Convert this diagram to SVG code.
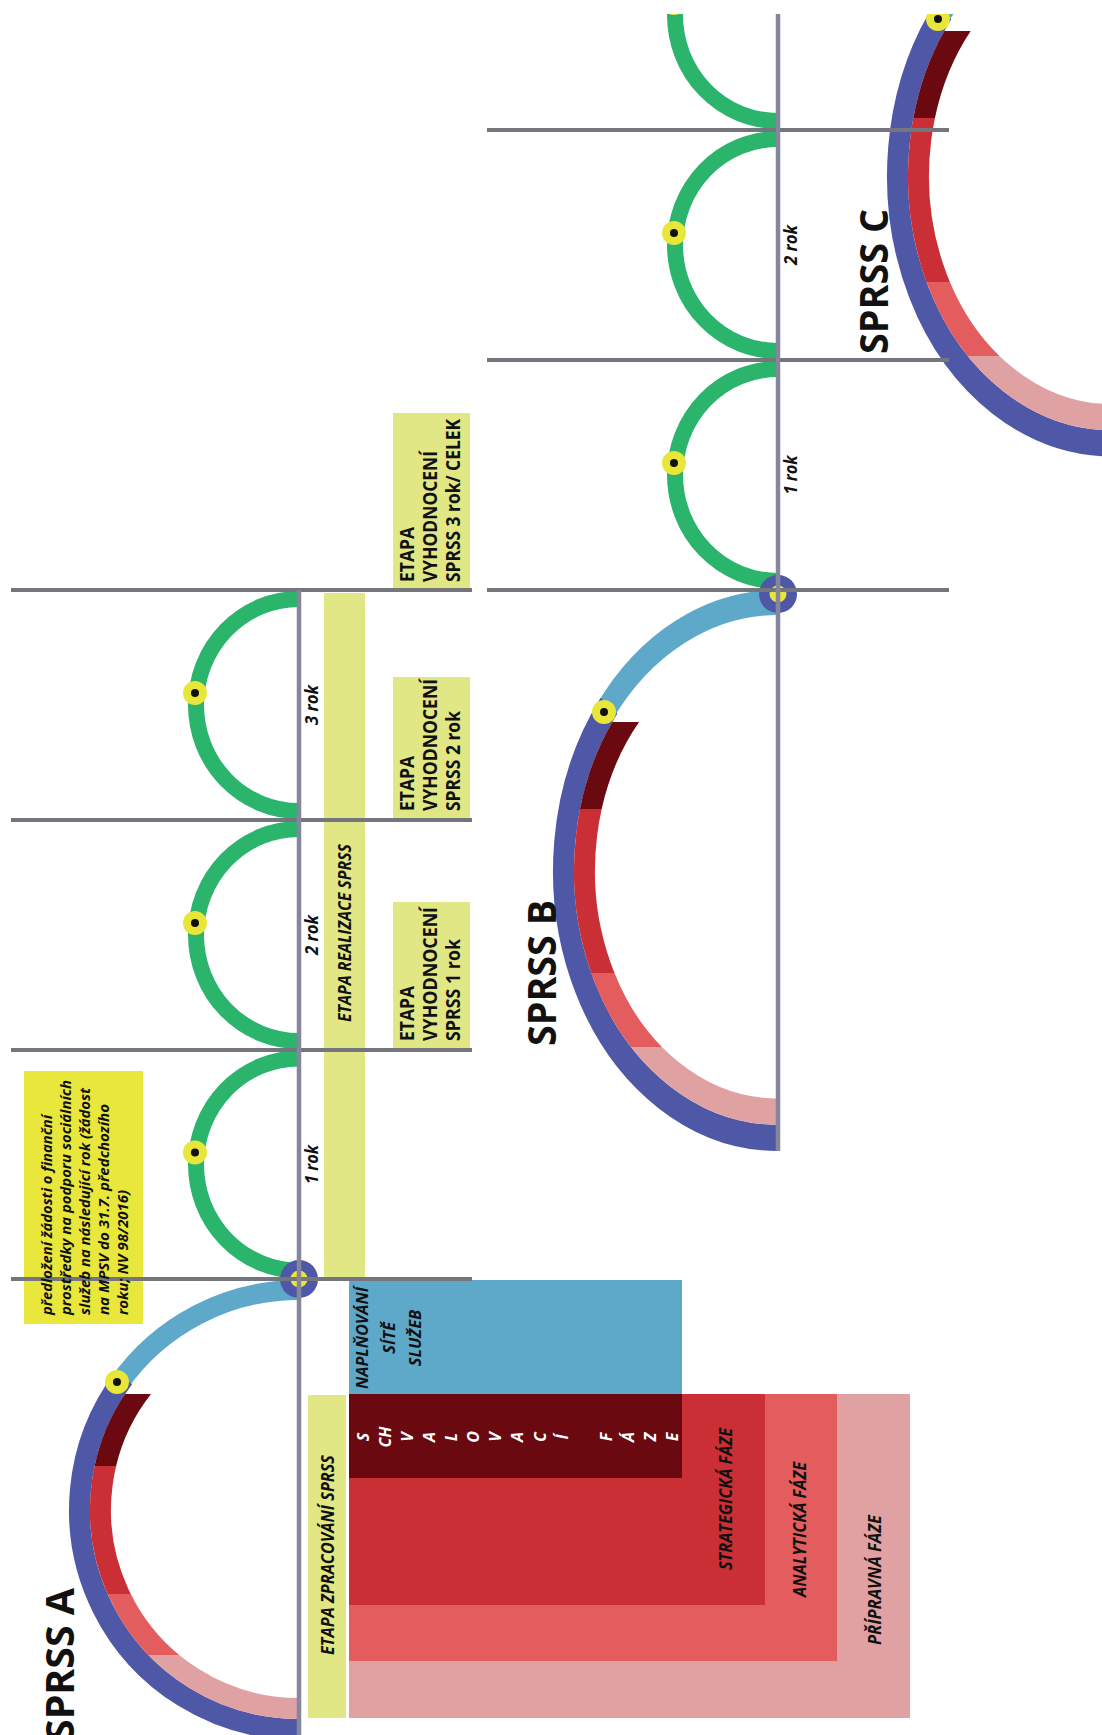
<svg xmlns="http://www.w3.org/2000/svg" xmlns:xlink="http://www.w3.org/1999/xlink" width="1102" height="1735" viewBox="0 0 1102 1735">
<defs>
<style>
.hl{stroke:#74757d;stroke-width:4}
.vl{stroke:#85869b;stroke-width:4.5}
.g{fill:none;stroke:#2bb46b;stroke-width:16}
.lb{fill:none;stroke:#5ea8ca}
.pu{fill:none;stroke:#4f58a6}
.dr{fill:none;stroke:#6a0910}
.rd{fill:none;stroke:#c92f35}
.sa{fill:none;stroke:#e35c5e}
.pk{fill:none;stroke:#e0a1a3}
.y{fill:#e9e63a}
.k{fill:#111}
.bx{fill:#e2e785}
.t{font-family:"Open Sans","Liberation Sans",sans-serif;font-weight:700;fill:#111}
.i{font-style:italic}
.w{fill:#fff}
.big{font-size:39px}
.sm{font-size:17px}
.ph{font-size:17.5px}
.ev{font-size:19px}
.nt{font-size:15px}
</style>
<clipPath id="top"><rect x="0" y="14" width="1102" height="1721"/></clipPath>
<clipPath id="cA1"><rect x="0" y="1394" width="1102" height="72"/></clipPath>
<clipPath id="cA2"><rect x="0" y="1466" width="1102" height="128"/></clipPath>
<clipPath id="cA3"><rect x="0" y="1594" width="1102" height="61"/></clipPath>
<clipPath id="cA4"><rect x="0" y="1655" width="1102" height="200"/></clipPath>
<clipPath id="cB1"><rect x="0" y="722" width="1102" height="87"/></clipPath>
<clipPath id="cB2"><rect x="0" y="809" width="1102" height="164"/></clipPath>
<clipPath id="cB3"><rect x="0" y="973" width="1102" height="74"/></clipPath>
<clipPath id="cB4"><rect x="0" y="1047" width="1102" height="200"/></clipPath>
<clipPath id="cC1"><rect x="0" y="31" width="1102" height="87"/></clipPath>
<clipPath id="cC2"><rect x="0" y="118" width="1102" height="164"/></clipPath>
<clipPath id="cC3"><rect x="0" y="282" width="1102" height="74"/></clipPath>
<clipPath id="cC4"><rect x="0" y="356" width="1102" height="200"/></clipPath>
<path id="eLB" d="M0,-215 A215,215 0 0 0 -173.9,-126.4"/>
<path id="eP" d="M-169,-132.1 A214.5,214.5 0 0 0 0,214.5"/>
<path id="eI" d="M-143.8,-129.5 A193.5,193.5 0 0 0 0,193.5"/>
</defs>
<rect width="1102" height="1735" fill="#fff"/>
<g clip-path="url(#top)">

<g id="phase-boxes">
<rect x="349" y="1394" width="561" height="324" fill="#e0a1a3"/>
<rect x="349" y="1394" width="488" height="267" fill="#e35c5e"/>
<rect x="349" y="1394" width="416" height="211" fill="#c92f35"/>
<rect x="349" y="1394" width="333" height="84" fill="#6a0910"/>
<rect x="349" y="1280" width="333" height="114" fill="#5ea8ca"/>
</g>

<g id="bars">
<rect class="bx" x="324" y="593" width="41" height="685"/>
<rect class="bx" x="308" y="1395" width="38" height="323"/>
<rect class="bx" x="393" y="902" width="77" height="147"/>
<rect class="bx" x="393" y="677" width="77" height="142"/>
<rect class="bx" x="393" y="413" width="77" height="177"/>
</g>

<g id="note">
<rect x="24" y="1071" width="119" height="253" fill="#e9e73b"/>
</g>

<g id="green-arcs">
<path class="g" d="M299,599 A103,106 0 0 0 299,811"/>
<path class="g" d="M299,829 A103,106 0 0 0 299,1041"/>
<path class="g" d="M299,1058.5 A103,106 0 0 0 299,1270.5"/>
<path class="g" d="M778,-91 A103,106 0 0 0 778,121"/>
<path class="g" d="M778,139 A103,106 0 0 0 778,351"/>
<path class="g" d="M778,369 A103,106 0 0 0 778,581"/>
<g class="y"><circle cx="195" cy="693" r="12"/><circle cx="195" cy="923" r="12"/><circle cx="195" cy="1152.5" r="12"/><circle cx="674" cy="3" r="12"/><circle cx="674" cy="233" r="12"/><circle cx="674" cy="463" r="12"/></g>
<g class="k"><circle cx="195" cy="693" r="4"/><circle cx="195" cy="923" r="4"/><circle cx="195" cy="1152.5" r="4"/><circle cx="674" cy="3" r="4"/><circle cx="674" cy="233" r="4"/><circle cx="674" cy="463" r="4"/></g>
</g>

<g id="sprss-a-arc">
<path class="lb" stroke-width="20" d="M299,1290 A220,220 0 0 0 118.8,1383.8"/>
<path class="pu" stroke-width="21" d="M123.7,1377.9 A219.5,219.5 0 0 0 299,1729.5"/>
<g clip-path="url(#cA1)"><path class="dr" stroke-width="21" d="M146.9,1382.4 A198.5,198.5 0 0 0 299,1708.5"/></g>
<g clip-path="url(#cA2)"><path class="rd" stroke-width="21" d="M146.9,1382.4 A198.5,198.5 0 0 0 299,1708.5"/></g>
<g clip-path="url(#cA3)"><path class="sa" stroke-width="21" d="M146.9,1382.4 A198.5,198.5 0 0 0 299,1708.5"/></g>
<g clip-path="url(#cA4)"><path class="pk" stroke-width="21" d="M146.9,1382.4 A198.5,198.5 0 0 0 299,1708.5"/></g>
<circle class="y" cx="117" cy="1382" r="12"/><circle class="k" cx="117" cy="1382" r="4"/>
</g>

<g id="sprss-b-arc">
<use xlink:href="#eLB" class="lb" stroke-width="20" transform="translate(778,870.5) scale(1,1.2467)"/>
<use xlink:href="#eP" class="pu" stroke-width="21" transform="translate(778,870.5) scale(1,1.2467)"/>
<g clip-path="url(#cB1)"><use xlink:href="#eI" class="dr" stroke-width="21" transform="translate(778,870.5) scale(1,1.2467)"/></g>
<g clip-path="url(#cB2)"><use xlink:href="#eI" class="rd" stroke-width="21" transform="translate(778,870.5) scale(1,1.2467)"/></g>
<g clip-path="url(#cB3)"><use xlink:href="#eI" class="sa" stroke-width="21" transform="translate(778,870.5) scale(1,1.2467)"/></g>
<g clip-path="url(#cB4)"><use xlink:href="#eI" class="pk" stroke-width="21" transform="translate(778,870.5) scale(1,1.2467)"/></g>
<circle class="y" cx="604" cy="712" r="12"/><circle class="k" cx="604" cy="712" r="4"/>
</g>

<g id="sprss-c-arc">
<use xlink:href="#eLB" class="lb" stroke-width="20" transform="translate(1112,176) scale(1,1.2467)"/>
<use xlink:href="#eP" class="pu" stroke-width="21" transform="translate(1112,176) scale(1,1.2467)"/>
<g clip-path="url(#cC1)"><use xlink:href="#eI" class="dr" stroke-width="21" transform="translate(1112,176) scale(1,1.2467)"/></g>
<g clip-path="url(#cC2)"><use xlink:href="#eI" class="rd" stroke-width="21" transform="translate(1112,176) scale(1,1.2467)"/></g>
<g clip-path="url(#cC3)"><use xlink:href="#eI" class="sa" stroke-width="21" transform="translate(1112,176) scale(1,1.2467)"/></g>
<g clip-path="url(#cC4)"><use xlink:href="#eI" class="pk" stroke-width="21" transform="translate(1112,176) scale(1,1.2467)"/></g>
<circle class="y" cx="938" cy="19" r="12"/><circle class="k" cx="938" cy="19" r="4"/>
</g>

<g id="markers">
<circle cx="299" cy="1279" r="19" fill="#4f58a6"/><circle class="y" cx="299" cy="1279" r="8.5"/>
<circle cx="778" cy="594" r="19" fill="#4f58a6"/><circle class="y" cx="778" cy="594" r="8.5"/>
</g>

<g id="connectors">
<line class="hl" x1="11" y1="590" x2="472" y2="590"/>
<line class="hl" x1="11" y1="820" x2="472" y2="820"/>
<line class="hl" x1="11" y1="1050" x2="472" y2="1050"/>
<line class="hl" x1="11" y1="1279" x2="472" y2="1279"/>
<line class="hl" x1="487" y1="130" x2="949" y2="130"/>
<line class="hl" x1="487" y1="360" x2="949" y2="360"/>
<line class="hl" x1="487" y1="590" x2="949" y2="590"/>
<line class="vl" x1="299" y1="590" x2="299" y2="1735"/>
<line class="vl" x1="778" y1="14" x2="778" y2="1151"/>
</g>

<g id="labels">
<text class="t big" transform="translate(74,1741) rotate(-90)" textLength="153" lengthAdjust="spacingAndGlyphs">SPRSS A</text>
<text class="t big" transform="translate(556,1046) rotate(-90)" textLength="146" lengthAdjust="spacingAndGlyphs">SPRSS B</text>
<text class="t big" transform="translate(888,354) rotate(-90)" textLength="145" lengthAdjust="spacingAndGlyphs">SPRSS C</text>
<g class="t i sm" text-anchor="middle">
<text transform="translate(318,1164.5) rotate(-90)" textLength="39" lengthAdjust="spacingAndGlyphs">1 rok</text>
<text transform="translate(318,935) rotate(-90)" textLength="40" lengthAdjust="spacingAndGlyphs">2 rok</text>
<text transform="translate(318,705) rotate(-90)" textLength="40" lengthAdjust="spacingAndGlyphs">3 rok</text>
<text transform="translate(797,475) rotate(-90)" textLength="39" lengthAdjust="spacingAndGlyphs">1 rok</text>
<text transform="translate(797,245) rotate(-90)" textLength="40" lengthAdjust="spacingAndGlyphs">2 rok</text>
</g>
</g>

<g id="etapa-realizace">
<text class="t i" font-size="17" text-anchor="middle" transform="translate(351,933) rotate(-90)" textLength="178" lengthAdjust="spacingAndGlyphs">ETAPA REALIZACE SPRSS</text>
</g>
<g id="etapa-zpracovani">
<text class="t i" font-size="17" text-anchor="middle" transform="translate(334,1555) rotate(-90)" textLength="200" lengthAdjust="spacingAndGlyphs">ETAPA ZPRACOVÁNÍ SPRSS</text>
</g>

<g id="vyhodnoceni-1" class="t ev">
<text transform="translate(414,1041) rotate(-90)" textLength="55" lengthAdjust="spacingAndGlyphs">ETAPA</text>
<text transform="translate(437,1041) rotate(-90)" textLength="134" lengthAdjust="spacingAndGlyphs">VYHODNOCENÍ</text>
<text transform="translate(460,1041) rotate(-90)" textLength="102" lengthAdjust="spacingAndGlyphs">SPRSS 1 rok</text>
</g>
<g id="vyhodnoceni-2" class="t ev">
<text transform="translate(414,811) rotate(-90)" textLength="55" lengthAdjust="spacingAndGlyphs">ETAPA</text>
<text transform="translate(437,811) rotate(-90)" textLength="132" lengthAdjust="spacingAndGlyphs">VYHODNOCENÍ</text>
<text transform="translate(460,811) rotate(-90)" textLength="100" lengthAdjust="spacingAndGlyphs">SPRSS 2 rok</text>
</g>
<g id="vyhodnoceni-3" class="t ev">
<text transform="translate(414,582) rotate(-90)" textLength="55" lengthAdjust="spacingAndGlyphs">ETAPA</text>
<text transform="translate(437,582) rotate(-90)" textLength="131" lengthAdjust="spacingAndGlyphs">VYHODNOCENÍ</text>
<text transform="translate(460,582) rotate(-90)" textLength="163" lengthAdjust="spacingAndGlyphs">SPRSS 3 rok/ CELEK</text>
</g>

<g id="note-text" class="t i nt">
<text transform="translate(52,1315) rotate(-90)" textLength="200" lengthAdjust="spacingAndGlyphs">předložení žádosti o finanční</text>
<text transform="translate(71,1315) rotate(-90)" textLength="235" lengthAdjust="spacingAndGlyphs">prostředky na podporu sociálních</text>
<text transform="translate(90,1315) rotate(-90)" textLength="227" lengthAdjust="spacingAndGlyphs">služeb na následující rok (žádost</text>
<text transform="translate(109,1315) rotate(-90)" textLength="211" lengthAdjust="spacingAndGlyphs">na MPSV do 31.7. předchozího</text>
<text transform="translate(128,1315) rotate(-90)" textLength="125" lengthAdjust="spacingAndGlyphs">roku; NV 98/2016)</text>
</g>

<g id="naplnovani">
<text class="t i" font-size="16.5" text-anchor="middle" transform="translate(368,1338) rotate(-90)"><tspan x="0" y="0" textLength="102" lengthAdjust="spacingAndGlyphs">NAPLŇOVÁNÍ</tspan><tspan x="0" dy="26.5">SÍTĚ</tspan><tspan x="0" dy="26.5">SLUŽEB</tspan></text>
</g>

<g id="schvalovaci">
<text class="t i w" font-size="16" text-anchor="middle" transform="translate(369,1437) rotate(-90)"><tspan x="0" y="0">S</tspan><tspan x="0" dy="22.07">CH</tspan><tspan x="0" dy="22.07">V</tspan><tspan x="0" dy="22.07">A</tspan><tspan x="0" dy="22.07">L</tspan><tspan x="0" dy="22.07">O</tspan><tspan x="0" dy="22.07">V</tspan><tspan x="0" dy="22.07">A</tspan><tspan x="0" dy="22.07">C</tspan><tspan x="0" dy="22.07">Í</tspan><tspan x="0" dy="44.14">F</tspan><tspan x="0" dy="22.07">Á</tspan><tspan x="0" dy="22.07">Z</tspan><tspan x="0" dy="22.07">E</tspan></text>
</g>

<g id="phase-labels" class="t i ph" text-anchor="middle">
<text transform="translate(732,1499) rotate(-90)" textLength="142" lengthAdjust="spacingAndGlyphs">STRATEGICKÁ FÁZE</text>
<text transform="translate(806,1529.5) rotate(-90)" textLength="135" lengthAdjust="spacingAndGlyphs">ANALYTICKÁ FÁZE</text>
<text transform="translate(881,1580) rotate(-90)" textLength="130" lengthAdjust="spacingAndGlyphs">PŘÍPRAVNÁ FÁZE</text>
</g>

</g>
</svg>
